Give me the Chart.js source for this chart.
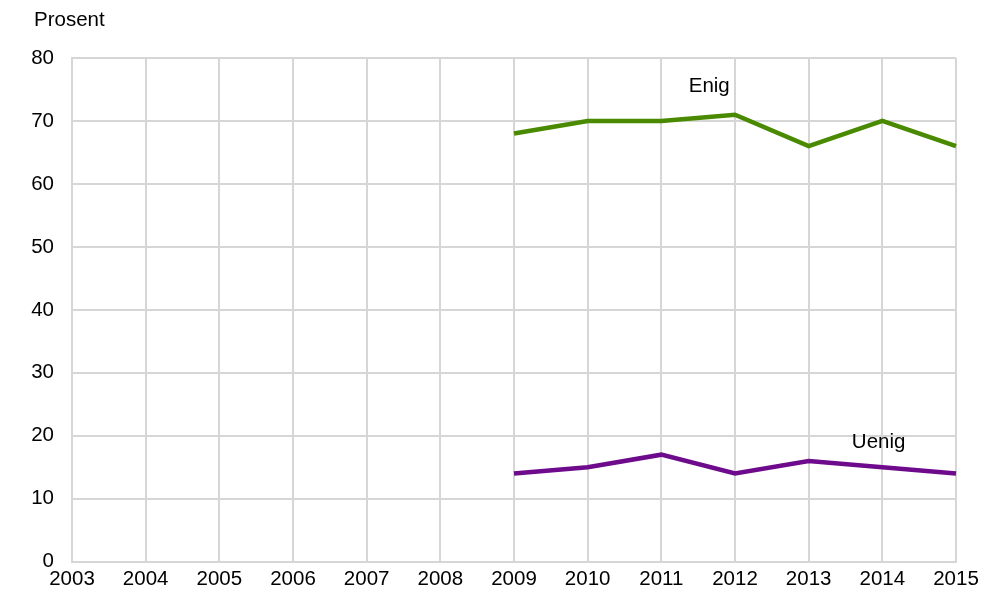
<!DOCTYPE html>
<html>
<head>
<meta charset="utf-8">
<script src="https://cdn.jsdelivr.net/npm/chart.js@4/dist/chart.umd.min.js"></script>
<style>
  html, body { margin: 0; padding: 0; background: #fff; }
  #wrap { width: 995px; height: 592px; }
</style>
</head>
<body>
<div id="wrap"><canvas id="chart" width="995" height="592"></canvas></div>
<script>
const years = ["2003","2004","2005","2006","2007","2008","2009","2010","2011","2012","2013","2014","2015"];
const enig  = [null, null, null, null, null, null, 68, 70, 70, 71, 66, 70, 66];
const uenig = [null, null, null, null, null, null, 14, 15, 17, 14, 16, 15, 14];
const yTicks = [0, 10, 20, 30, 40, 50, 60, 70, 80];

// series labels placed in data space: [label, x index, y value]
const seriesLabels = [
  ["Enig", 8.65, 75.5],
  ["Uenig", 10.95, 19]
];

const font = "Liberation Sans, Arial, sans-serif";

const textPlugin = {
  id: "texts",
  afterDatasetsDraw(chart) {
    const ctx = chart.ctx;
    const xs = chart.scales.x, ys = chart.scales.y;
    ctx.save();
    ctx.fillStyle = "#000";
    ctx.font = "20.5px " + font;
    ctx.textBaseline = "middle";
    ctx.textAlign = "left";
    ctx.fillText("Prosent", 34, 20);
    ctx.textAlign = "center";
    seriesLabels.forEach(([t, xi, yv]) => {
      ctx.fillText(t, xs.getPixelForValue(xi), ys.getPixelForValue(yv));
    });
    ctx.restore();
  }
};

new Chart(document.getElementById("chart").getContext("2d"), {
  type: "line",
  data: {
    labels: years,
    datasets: [
      { label: "Enig", data: enig, borderColor: "#4a8a00", borderWidth: 4.5, pointRadius: 0, tension: 0, fill: false },
      { label: "Uenig", data: uenig, borderColor: "#6e0a8c", borderWidth: 4.5, pointRadius: 0, tension: 0, fill: false }
    ]
  },
  options: {
    responsive: false,
    animation: false,
    layout: { padding: { top: 58, right: 39, left: 0, bottom: 0 } },
    plugins: { legend: { display: false }, tooltip: { enabled: false } },
    scales: {
      x: {
        offset: false,
        grid: { color: "#d6d6d6", lineWidth: 2, drawTicks: false },
        border: { color: "#d6d6d6", width: 2 },
        ticks: { color: "#000", font: { family: font, size: 20.5 }, padding: 5, maxRotation: 0, autoSkip: false },
        afterFit(s) { s.height = 30; }
      },
      y: {
        min: 0, max: 80,
        afterBuildTicks(s) { s.ticks = yTicks.map(v => ({ value: v })); },
        grid: { color: "#d6d6d6", lineWidth: 2, drawTicks: false },
        border: { color: "#d6d6d6", width: 2 },
        ticks: { color: "#000", font: { family: font, size: 20.5 }, padding: 18 },
        afterFit(s) { s.width = 72; }
      }
    }
  },
  plugins: [textPlugin]
});
</script>
</body>
</html>
